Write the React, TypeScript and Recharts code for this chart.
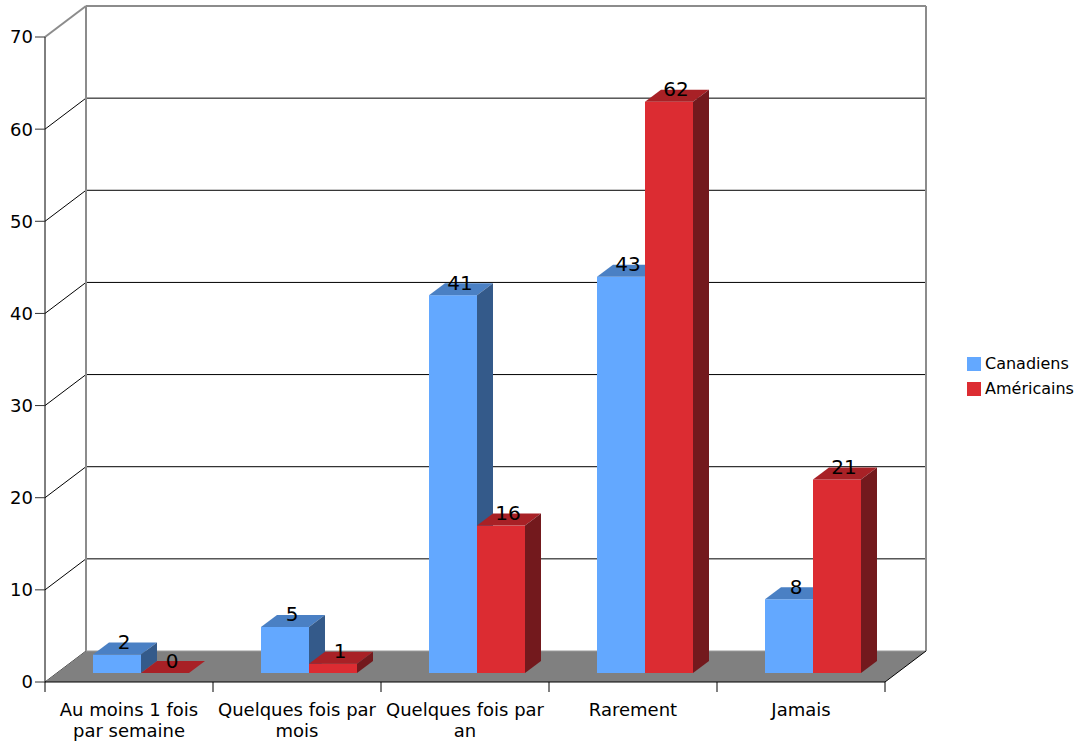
import React from 'react';
import {
  BarChart,
  Bar,
  XAxis,
  YAxis,
  CartesianGrid,
  ReferenceArea,
  Legend,
  LabelList,
} from 'recharts';

// Survey answers: how often people do it, Canadians vs Americans (%)
// Category labels carry their own line breaks for the axis.
const categories = [
  'Au moins 1 fois\npar semaine',
  'Quelques fois par\nmois',
  'Quelques fois par\nan',
  'Rarement',
  'Jamais',
];
const canadiens = [2, 5, 41, 43, 8];
const americains = [0, 1, 16, 62, 21];
const yTicks = [0, 10, 20, 30, 40, 50, 60, 70];
const seriesNames = ['Canadiens', 'Américains'];

const data = categories.map((category, i) => ({
  category,
  canadiens: canadiens[i],
  americains: americains[i],
}));

const FONT = "'DejaVu Sans', Verdana, sans-serif";

// Perspective offsets for the pseudo-3D box
const WALL_DX = 41;
const WALL_DY = 31;
const BAR_SHIFT_X = 12;
const BAR_SHIFT_Y = 9;
const BAR_DX = 16;
const BAR_DY = 12;

const X_TICK_SIZE = 10;
const X_TICK_MARGIN = 2;

const BLUE = { front: '#63a8ff', top: '#4a80c4', side: '#345a8a' };
const RED = { front: '#dc2c32', top: '#a82126', side: '#73191d' };

const WALL_STROKE = '#8c8c8c';

const makeBarShape = (c: { front: string; top: string; side: string }) => (props: any) => {
  const { x, y, width, height } = props;
  if (x == null || y == null) return <g />;
  const fx = x + BAR_SHIFT_X;
  const fy = y - BAR_SHIFT_Y;
  const h = Math.max(0, height || 0);
  const w = width;
  return (
    <g>
      <rect x={fx} y={fy} width={w} height={h} fill={c.front} />
      <polygon
        points={`${fx},${fy} ${fx + BAR_DX},${fy - BAR_DY} ${fx + w + BAR_DX},${fy - BAR_DY} ${fx + w},${fy}`}
        fill={c.top}
      />
      <polygon
        points={`${fx + w},${fy} ${fx + w + BAR_DX},${fy - BAR_DY} ${fx + w + BAR_DX},${fy + h - BAR_DY} ${fx + w},${fy + h}`}
        fill={c.side}
      />
    </g>
  );
};

const blueShape = makeBarShape(BLUE);
const redShape = makeBarShape(RED);

const ValueLabel = (props: any) => {
  const vb = props.viewBox && props.viewBox.x != null ? props.viewBox : props;
  const { x, y, width } = vb;
  if (x == null || y == null) return null;
  return (
    <text
      x={x + BAR_SHIFT_X + width / 2 + 7}
      y={y - BAR_SHIFT_Y - 5.5}
      textAnchor="middle"
      fontSize={20}
      fontFamily={FONT}
      fill="#000"
    >
      {props.value}
    </text>
  );
};

// Back wall, side edges and floor of the box
const WallAndFloor = (props: any) => {
  const { x, y, width, height } = props;
  if (x == null) return <g />;
  const bottom = y + height;
  const right = x + width;
  return (
    <g>
      <polygon
        points={`${x},${bottom} ${x + WALL_DX},${bottom - WALL_DY} ${right + WALL_DX},${bottom - WALL_DY} ${right},${bottom}`}
        fill="#808080"
      />
      <line x1={x + WALL_DX} y1={y - WALL_DY} x2={x + WALL_DX} y2={bottom - WALL_DY} stroke={WALL_STROKE} strokeWidth={2} />
      <line x1={right + WALL_DX} y1={y - WALL_DY} x2={right + WALL_DX} y2={bottom - WALL_DY} stroke={WALL_STROKE} strokeWidth={2} />
      <line x1={x + WALL_DX} y1={bottom - WALL_DY} x2={right + WALL_DX} y2={bottom - WALL_DY} stroke="#9a9a9a" strokeWidth={1} />
      <line x1={right} y1={bottom} x2={right + WALL_DX} y2={bottom - WALL_DY} stroke="#000" strokeWidth={1} />
    </g>
  );
};

const renderGridLine = (props: any) => {
  const { x1, y1, x2, y, height, index } = props;
  const isTop = typeof y === 'number' && Math.abs(y1 - y) < 0.5;
  const isBottom = typeof y === 'number' && Math.abs(y1 - (y + height)) < 0.5;
  const stroke = isTop ? WALL_STROKE : '#000';
  const sw = isTop ? 2 : 1;
  const bx1 = x1 + WALL_DX;
  const bx2 = x2 + WALL_DX;
  const by = y1 - WALL_DY;
  return (
    <g key={`grid-${index}-${y1}`}>
      <line x1={x1} y1={y1} x2={bx1} y2={by} stroke={isBottom ? '#333' : stroke} strokeWidth={sw} />
      {!isBottom && <line x1={bx1} y1={by} x2={bx2} y2={by} stroke={stroke} strokeWidth={sw} />}
    </g>
  );
};

const CategoryTick = (props: any) => {
  const { x, y, payload, index, visibleTicksCount } = props;
  const half = payload && payload.offset ? payload.offset : 84;
  const axisY = y - X_TICK_SIZE - X_TICK_MARGIN;
  const isLast = index === visibleTicksCount - 1;
  const lines = String(payload.value).split('\n');
  return (
    <g>
      <line x1={x - half} y1={axisY} x2={x - half} y2={axisY + X_TICK_SIZE} stroke="#000" />
      {isLast && <line x1={x + half} y1={axisY} x2={x + half} y2={axisY + X_TICK_SIZE} stroke="#000" />}
      <text x={x} y={axisY + 34} textAnchor="middle" fontSize={18} fontFamily={FONT} fill="#000">
        {lines.map((line, i) => (
          <tspan key={i} x={x} dy={i === 0 ? 0 : 21}>
            {line}
          </tspan>
        ))}
      </text>
    </g>
  );
};

const LegendContent = (props: any) => {
  const fallback = seriesNames.map((n, i) => ({ value: n, color: i === 0 ? BLUE.front : RED.front }));
  const payload = (props.payload && props.payload.length ? [...props.payload] : fallback).sort(
    (a: any, b: any) => seriesNames.indexOf(a.value) - seriesNames.indexOf(b.value),
  );
  return (
    <div style={{ fontFamily: FONT, fontSize: 16, color: '#000' }}>
      {payload.map((entry: any) => (
        <div key={entry.value} style={{ display: 'flex', alignItems: 'center', height: 20, marginBottom: 5 }}>
          <span style={{ display: 'inline-block', width: 14, height: 14, background: entry.color, marginRight: 4 }} />
          <span style={{ lineHeight: '20px', whiteSpace: 'nowrap' }}>{entry.value}</span>
        </div>
      ))}
    </div>
  );
};

export default function App() {
  return (
    <div style={{ position: 'absolute', left: 0, top: 0 }}>
      <BarChart
        width={1083}
        height={745}
        data={data}
        margin={{ top: 37, right: 198, bottom: 0, left: 0 }}
        barCategoryGap={36}
        barGap={0}
        style={{ fontFamily: FONT }}
      >
        <ReferenceArea
          y1={0}
          y2={70}
          ifOverflow="visible"
          shape={(p: any) => <WallAndFloor {...p} />}
        />
        <CartesianGrid vertical={false} horizontal={renderGridLine as any} />
        <XAxis
          dataKey="category"
          height={63}
          interval={0}
          tickLine={false}
          tickSize={X_TICK_SIZE}
          tickMargin={X_TICK_MARGIN}
          axisLine={{ stroke: '#000' }}
          tick={<CategoryTick />}
        />
        <YAxis
          type="number"
          domain={[0, 70]}
          ticks={yTicks}
          interval={0}
          width={45}
          tickSize={10}
          tickMargin={2}
          axisLine={{ stroke: '#000' }}
          tickLine={{ stroke: '#333' }}
          tick={{ fill: '#000', fontSize: 18 }}
        />
        <Legend
          layout="horizontal"
          verticalAlign="middle"
          align="center"
          wrapperStyle={{ left: 967, top: 354, width: 116 }}
          content={<LegendContent />}
        />
        <Bar
          dataKey="canadiens"
          name={seriesNames[0]}
          fill={BLUE.front}
          shape={blueShape}
          isAnimationActive={false}
        >
          <LabelList dataKey="canadiens" content={<ValueLabel />} />
        </Bar>
        <Bar
          dataKey="americains"
          name={seriesNames[1]}
          fill={RED.front}
          shape={redShape}
          isAnimationActive={false}
        >
          <LabelList dataKey="americains" content={<ValueLabel />} />
        </Bar>
      </BarChart>
    </div>
  );
}
